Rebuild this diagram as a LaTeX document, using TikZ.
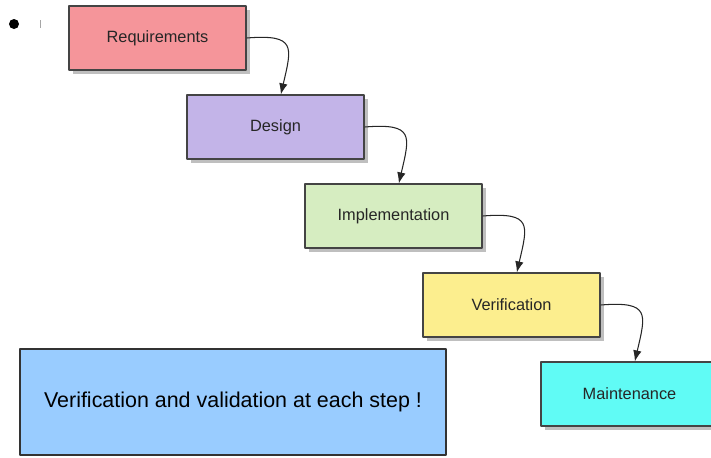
\documentclass[tikz,border=0pt]{standalone}
\usepackage{fontspec}
\setmainfont{Liberation Sans}
\usetikzlibrary{calc,arrows.meta,shadows}

\definecolor{reqfill}{HTML}{F5959A}
\definecolor{desfill}{HTML}{C3B4E8}
\definecolor{impfill}{HTML}{D6EDC1}
\definecolor{verfill}{HTML}{FCEE8E}
\definecolor{mntfill}{HTML}{60FBF5}
\definecolor{notefill}{HTML}{99CCFF}
\definecolor{edge}{HTML}{444444}

\begin{document}
\begin{tikzpicture}[
		line join=round,
		>=Latex,
		stage/.style={draw=edge, line width=0.7pt, minimum width=3.54cm, minimum height=1.28cm,
			inner sep=0pt, font=\fontsize{9.3}{11}\selectfont, text=black!85,
			drop shadow={shadow xshift=0.7mm, shadow yshift=-0.8mm, opacity=0.25, fill=black}},
		flow/.style={->, line width=0.6pt, black!85, -{Latex[length=2.2mm,width=1.7mm]}},
		notebox/.style={draw=black!80, line width=0.6pt, fill=notefill, minimum width=8.52cm,
			minimum height=2.12cm, inner sep=0pt, font=\fontsize{12.2}{14}\selectfont}
	]
	
	% Parameters
	\def\sx{2.36}  % step right
	\def\sy{-1.78} % step down
	
	\useasboundingbox (0,0) rectangle (14.22,-9.14);
	
	% Bullet
	\fill (0.28,-0.48) circle (0.1);
	\draw[gray!70, line width=0.4pt] (0.8,-0.40) -- (0.8,-0.56);
	
	% Stages
	\node[stage, fill=reqfill] (req) at (3.15,-0.76) {Requirements};
	\node[stage, fill=desfill] (des) at ($(req)+(\sx,\sy)$) {Design};
	\node[stage, fill=impfill] (imp) at ($(des)+(\sx,\sy)$) {Implementation};
	\node[stage, fill=verfill] (ver) at ($(imp)+(\sx,\sy)$) {Verification};
	\node[stage, fill=mntfill] (mnt) at ($(ver)+(\sx,\sy)$) {Maintenance};
	
	% Arrows
	\foreach \a/\b in {req/des, des/imp, imp/ver, ver/mnt} {
		\draw[flow] (\a.east) .. controls +(1.0,0.08) and +(0.22,0.95)
		.. ($(\b.north west)!0.53!(\b.north east)$);
	}
	
	% Note
	\node[notebox] (note) at (4.66,-8.04) {Verification and validation at each step !};
	
\end{tikzpicture}
\end{document}
